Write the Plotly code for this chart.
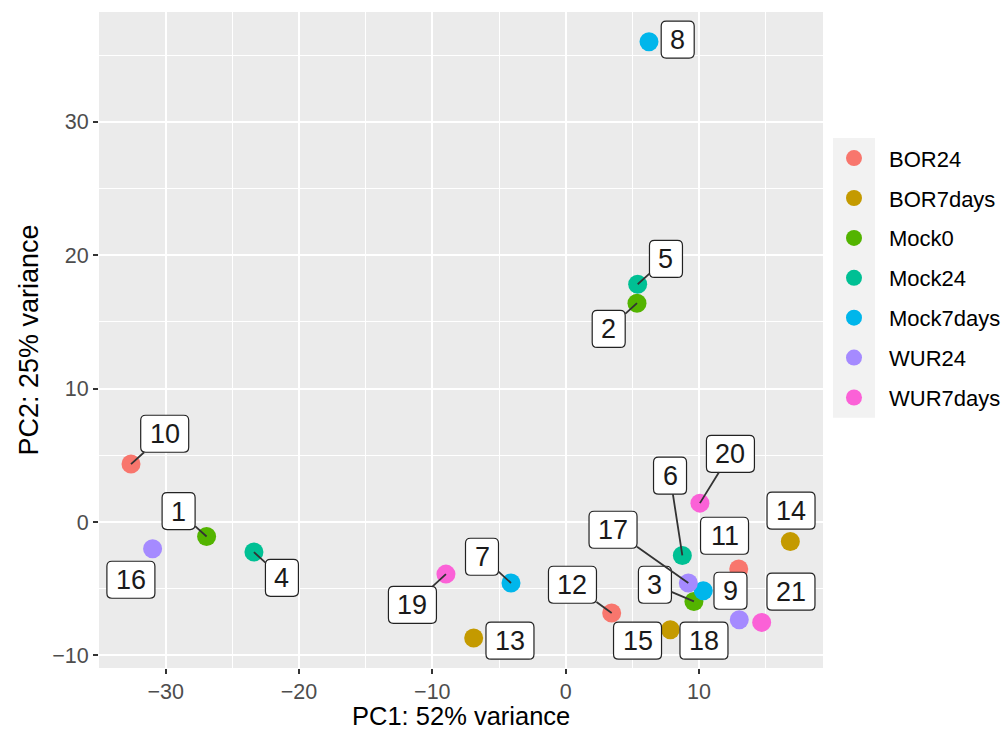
import plotly.graph_objects as go

# ---------------- data ----------------
samples = [str(i) for i in range(1, 22)]
groups = ["Mock0", "Mock0", "Mock0", "Mock24", "Mock24", "Mock24",
          "Mock7days", "Mock7days", "Mock7days", "BOR24", "BOR24", "BOR24",
          "BOR7days", "BOR7days", "BOR7days", "WUR24", "WUR24", "WUR24",
          "WUR7days", "WUR7days", "WUR7days"]
pc1 = [-26.93, 5.35, 9.62, -23.38, 5.40, 8.75, -4.10, 6.25, 10.32, -32.60,
       12.98, 3.45, -6.90, 16.85, 7.85, -30.98, 9.20, 13.02, -8.98, 10.07, 14.70]
pc2 = [-1.08, 16.41, -5.95, -2.25, 17.83, -2.50, -4.57, 36.01, -5.15, 4.35,
       -3.52, -6.82, -8.69, -1.45, -8.07, -2.00, -4.57, -7.32, -3.90, 1.42, -7.52]

group_order = ["BOR24", "BOR7days", "Mock0", "Mock24", "Mock7days", "WUR24", "WUR7days"]
x_ticks = [-30, -20, -10, 0, 10]
y_ticks = [-10, 0, 10, 20, 30]
x_title = "PC1: 52% variance"
y_title = "PC2: 25% variance"

# ---------------- styling / layout ----------------
colors = {"BOR24": "#F8766D", "BOR7days": "#C49A00", "Mock0": "#53B400",
          "Mock24": "#00C094", "Mock7days": "#00B6EB", "WUR24": "#A58AFF",
          "WUR7days": "#FB61D7"}

# label box pixel offsets (repel-like placement) and whether a segment is drawn
label_dx = [-28, -28.3, -39, 28, 28.3, -12.3, -29, 28.7, 27.2, 33.7, -14.2,
            -39.2, 36.3, 0.7, -32.8, -21.7, -75.3, -35.3, -33.5, 30.5, 29.3]
label_dy = [-25.4, 25.7, -16.7, 25.7, -25.3, -79.7, -26.3, -2.2, 0, -30.3, -33.3,
            -28.3, 2.7, -30.7, 11, 31, -53.3, 21, 30.7, -49.3, -30.7]
segment = [1, 1, 1, 1, 1, 1, 1, 0, 0, 1, 0, 1, 0, 0, 0, 0, 1, 0, 1, 1, 0]

FONT = "Liberation Sans, Arial, Helvetica, sans-serif"

fig = go.Figure()
for g in group_order:
    idx = [i for i, gg in enumerate(groups) if gg == g]
    fig.add_trace(go.Scatter(
        x=[pc1[i] for i in idx], y=[pc2[i] for i in idx],
        mode="markers", name=g, legendgroup=g,
        marker=dict(color=colors[g], size=19, line=dict(width=0)),
        hoverinfo="text", text=[samples[i] for i in idx],
    ))


def rounded_rect(cx, cy, w, h, r):
    x0, x1 = cx - w / 2, cx + w / 2
    y0, y1 = cy - h / 2, cy + h / 2
    return (f"M {x0 + r},{y0} L {x1 - r},{y0} Q {x1},{y0} {x1},{y0 + r} "
            f"L {x1},{y1 - r} Q {x1},{y1} {x1 - r},{y1} L {x0 + r},{y1} "
            f"Q {x0},{y1} {x0},{y1 - r} L {x0},{y0 + r} Q {x0},{y0} {x0 + r},{y0} Z")


shapes = []
annotations = []
for i, s in enumerate(samples):
    w = 33 if len(s) == 1 else 48
    h = 37
    shapes.append(dict(
        type="path", layer="above", xref="x", yref="y",
        xsizemode="pixel", ysizemode="pixel",
        xanchor=pc1[i], yanchor=pc2[i],
        path=rounded_rect(label_dx[i], -label_dy[i], w, h, 5),
        fillcolor="white", line=dict(color="#222222", width=1.2),
    ))
    annotations.append(dict(
        x=pc1[i], y=pc2[i], xref="x", yref="y", text=s,
        showarrow=True, ax=label_dx[i], ay=label_dy[i],
        arrowhead=0, arrowwidth=1.8, standoff=0,
        arrowcolor="#333333" if segment[i] else "rgba(0,0,0,0)",
        width=w, height=h, borderpad=0, borderwidth=0,
        align="center", valign="middle",
        font=dict(family=FONT, size=27, color="#1a1a1a"),
    ))

# x-axis title, placed just below the tick labels
annotations.append(dict(
    text=x_title, xref="paper", yref="paper", x=0.5, y=-0.0736,
    xanchor="center", yanchor="middle", showarrow=False, borderpad=0,
    font=dict(family=FONT, size=25.5, color="black"),
))

# grey legend key column background
shapes.append(dict(type="rect", xref="paper", yref="paper", layer="below",
                   x0=1.0138, x1=1.0718, y0=0.3813, y1=0.808,
                   fillcolor="#F2F2F2", line=dict(width=0)))

axis_common = dict(
    showgrid=True, gridcolor="white", gridwidth=2.2,
    zeroline=False, showline=False, automargin=True,
    ticks="outside", ticklen=5, tickwidth=2, tickcolor="#333333",
    tickfont=dict(family=FONT, size=21.5, color="#4D4D4D"),
    minor=dict(showgrid=True, gridcolor="white", gridwidth=1.1, dtick=5),
)

fig.update_layout(
    width=1006, height=731,
    margin=dict(l=99, r=183, t=12, b=63, autoexpand=False),
    paper_bgcolor="white", plot_bgcolor="#EBEBEB",
    font=dict(family=FONT),
    showlegend=True,
    legend=dict(
        xref="container", x=0.8141, xanchor="left",
        y=0.809, yanchor="top",
        font=dict(family=FONT, size=22, color="black"),
        bgcolor="rgba(0,0,0,0)", itemwidth=60,
        tracegroupgap=8.3, traceorder="grouped",
    ),
    xaxis=dict(range=[-35.0, 19.30], tickvals=x_ticks, ticklabelstandoff=-1,
               **axis_common),
    yaxis=dict(range=[-10.94, 38.24], tickvals=y_ticks,
               title=dict(text=y_title, font=dict(family=FONT, size=27, color="black"), standoff=5),
               **axis_common),
    shapes=shapes,
    annotations=annotations,
)
fig.update_xaxes(minor=dict(tick0=-35))
fig.update_yaxes(minor=dict(tick0=-10))

fig.write_html("out.html")
